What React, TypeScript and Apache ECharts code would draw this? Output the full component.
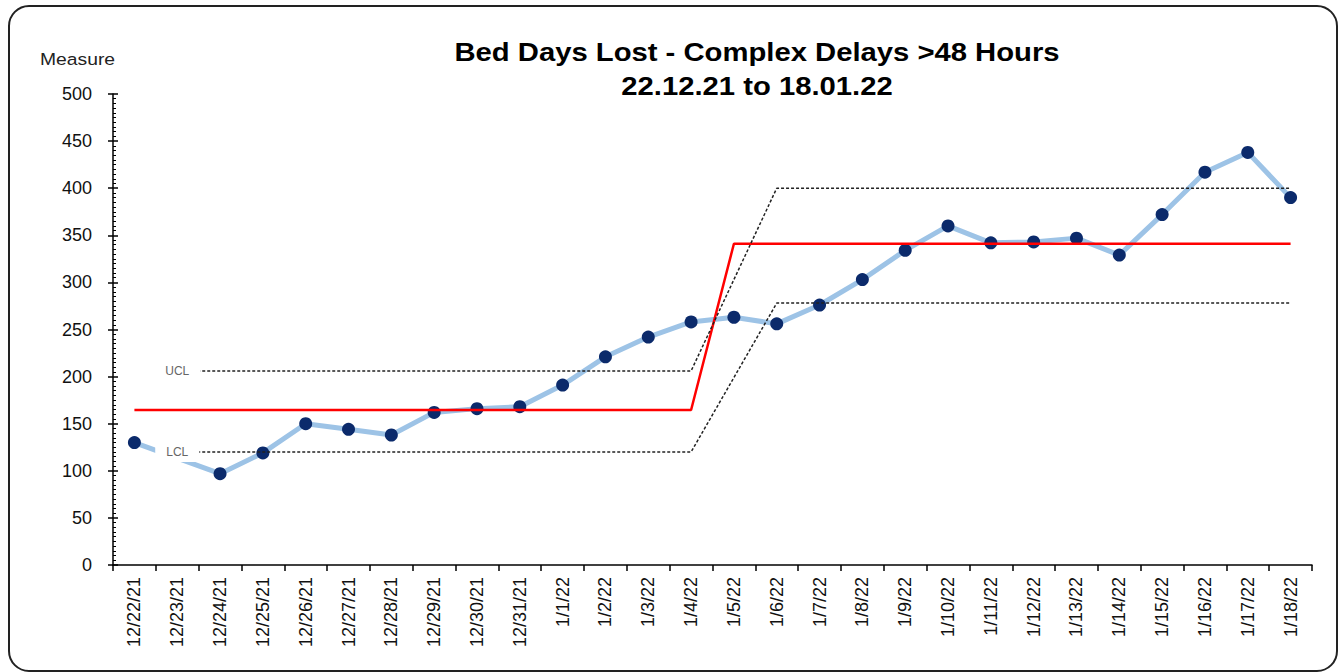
import React, { useEffect, useRef } from "react";
import * as echarts from "echarts";

const categories = [
  "12/22/21", "12/23/21", "12/24/21", "12/25/21", "12/26/21", "12/27/21", "12/28/21",
  "12/29/21", "12/30/21", "12/31/21", "1/1/22", "1/2/22", "1/3/22", "1/4/22",
  "1/5/22", "1/6/22", "1/7/22", "1/8/22", "1/9/22", "1/10/22", "1/11/22",
  "1/12/22", "1/13/22", "1/14/22", "1/15/22", "1/16/22", "1/17/22", "1/18/22",
];

const measure = [
  130, null, 97, 119, 150, 144, 138, 162, 166, 168, 191, 221, 242, 258,
  263, 256, 276, 303, 334, 360, 342, 343, 347, 329, 372, 417, 438, 390,
];

const centreLine = [
  164.5, 164.5, 164.5, 164.5, 164.5, 164.5, 164.5, 164.5, 164.5, 164.5, 164.5, 164.5, 164.5, 164.5,
  341, 341, 341, 341, 341, 341, 341, 341, 341, 341, 341, 341, 341, 341,
];

const ucl = [
  null, 206, 206, 206, 206, 206, 206, 206, 206, 206, 206, 206, 206, 206,
  null, 400, 400, 400, 400, 400, 400, 400, 400, 400, 400, 400, 400, 400,
];

const lcl = [
  null, 120, 120, 120, 120, 120, 120, 120, 120, 120, 120, 120, 120, 120,
  null, 278, 278, 278, 278, 278, 278, 278, 278, 278, 278, 278, 278, 278,
];

const yTicks = { min: 0, max: 500, interval: 50 };

const FONT = "'Liberation Sans', Arial, sans-serif";

function withLabel(values: (number | null)[], text: string) {
  return values.map((v, i) =>
    i === 1
      ? {
          value: v,
          label: {
            show: true,
            formatter: text,
            position: "inside",
            backgroundColor: "#ffffff",
            padding: [4, 11],
            color: "#666666",
            fontSize: 12,
            fontFamily: FONT,
          },
        }
      : v
  );
}

export default function App() {
  const ref = useRef<HTMLDivElement>(null);

  useEffect(() => {
    if (!ref.current) return;
    const chart = echarts.init(ref.current, null, { renderer: "svg" });
    const dashStyle = { color: "#222222", width: 1.5, type: [3, 2] as any };
    chart.setOption({
      animation: false,
      backgroundColor: "#ffffff",
      grid: { left: 113, right: 27, top: 94, bottom: 107 },
      graphic: [
        {
          type: "rect",
          shape: { x: 9, y: 6, width: 1328, height: 665, r: 20 },
          style: { fill: "none", stroke: "#222222", lineWidth: 2 },
          z: 0,
        },
        {
          type: "text",
          x: 757,
          y: 52,
          scaleX: 1.17,
          style: {
            text: "Bed Days Lost - Complex Delays >48 Hours",
            font: `bold 25px ${FONT}`,
            fill: "#000000",
            textAlign: "center",
            textVerticalAlign: "middle",
          },
        },
        {
          type: "text",
          x: 757,
          y: 86,
          scaleX: 1.17,
          style: {
            text: "22.12.21 to 18.01.22",
            font: `bold 25px ${FONT}`,
            fill: "#000000",
            textAlign: "center",
            textVerticalAlign: "middle",
          },
        },
        {
          type: "text",
          x: 40,
          y: 59,
          scaleX: 1.17,
          style: {
            text: "Measure",
            font: `16.5px ${FONT}`,
            fill: "#222222",
            textAlign: "left",
            textVerticalAlign: "middle",
          },
        },
      ],
      xAxis: {
        type: "category",
        data: categories,
        boundaryGap: true,
        axisLine: { lineStyle: { color: "#000000", width: 1.5 } },
        axisTick: { show: true, length: 6, lineStyle: { color: "#000000", width: 1.5 } },
        axisLabel: {
          rotate: 90,
          interval: 0,
          margin: 12,
          fontSize: 18,
          color: "#111111",
          fontFamily: FONT,
        },
        splitLine: { show: false },
      },
      yAxis: [
        {
          type: "value",
          ...yTicks,
          axisLine: { show: true, lineStyle: { color: "#000000", width: 1.5 } },
          axisTick: { show: true, length: 5, lineStyle: { color: "#000000", width: 1.5 } },
          axisLabel: { fontSize: 18, color: "#111111", margin: 21, fontFamily: FONT },
          splitLine: { show: false },
        },
        {
          type: "value",
          ...yTicks,
          position: "left",
          axisLine: { show: false },
          axisTick: { show: true, inside: true, length: 5, lineStyle: { color: "#000000", width: 1.5 } },
          minorTick: { show: true, splitNumber: 10, length: 3, lineStyle: { color: "#000000", width: 1 } },
          axisLabel: { show: false },
          splitLine: { show: false },
        },
      ],
      series: [
        {
          name: "Measure",
          type: "line",
          data: measure,
          z: 1,
          connectNulls: true,
          symbol: "circle",
          symbolSize: 13,
          showSymbol: true,
          lineStyle: { color: "#9DC3E6", width: 5 },
          itemStyle: { color: "#0B2A6B" },
        },
        {
          name: "Mean",
          type: "line",
          data: centreLine,
          z: 4,
          showSymbol: false,
          symbol: "none",
          lineStyle: { color: "#FF0000", width: 2.5 },
        },
        {
          name: "UCL",
          type: "line",
          data: withLabel(ucl, "UCL"),
          z: 10,
          connectNulls: true,
          symbol: "circle",
          symbolSize: 0,
          showSymbol: true,
          itemStyle: { color: "#333333" },
          lineStyle: dashStyle,
        },
        {
          name: "LCL",
          type: "line",
          data: withLabel(lcl, "LCL"),
          z: 10,
          connectNulls: true,
          symbol: "circle",
          symbolSize: 0,
          showSymbol: true,
          itemStyle: { color: "#333333" },
          lineStyle: dashStyle,
        },
      ],
    });
    return () => chart.dispose();
  }, []);

  return (
    <div
      ref={ref}
      style={{ position: "fixed", left: 0, top: 0, width: 1339, height: 672, background: "#fff" }}
    />
  );
}
